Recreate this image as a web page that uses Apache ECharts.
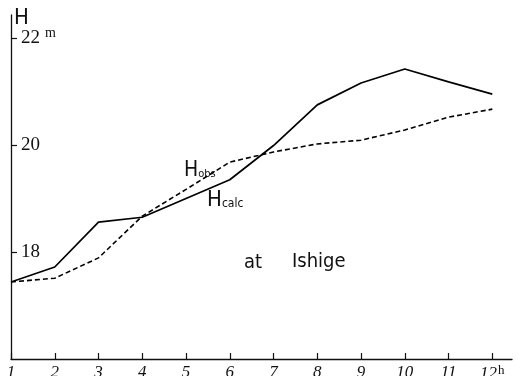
<!DOCTYPE html>
<html>
<head>
<meta charset="utf-8">
<script src="https://cdn.jsdelivr.net/npm/echarts@6/dist/echarts.min.js"></script>
<style>html,body{margin:0;padding:0;background:#fff;}#c{width:518px;height:376px;}</style>
</head>
<body>
<div id="c"></div>
<script>
// Data
var hours = [1, 2, 3, 4, 5, 6, 7, 8, 9, 10, 11, 12];
var hCalc = [17.44, 17.72, 18.56, 18.65, 19.0, 19.35, 19.99, 20.75, 21.16, 21.42, 21.18, 20.95];
var hObs  = [17.44, 17.51, 17.89, 18.67, 19.17, 19.68, 19.87, 20.02, 20.09, 20.28, 20.52, 20.67];
var yTicks = [18, 20, 22];
var xTicks = hours;

var chart = echarts.init(document.getElementById('c'), null, {renderer: 'canvas'});
var serif = '"Liberation Serif", "DejaVu Serif", serif';
var sans = '"DejaVu Sans Condensed", "DejaVu Sans", sans-serif';

function pairs(ys) { return hours.map(function (h, i) { return [h, ys[i]]; }); }

chart.setOption({
  animation: false,
  backgroundColor: '#fff',
  grid: {left: 11, right: 6, top: 15, bottom: 17, containLabel: false, outerBoundsMode: 'none'},
  xAxis: {
    type: 'value', min: 1, max: 12.45,
    axisLine: {show: true, lineStyle: {color: '#111', width: 1.3}},
    axisTick: {show: true, inside: true, length: 6, customValues: xTicks, lineStyle: {color: '#111', width: 1.2}},
    axisLabel: {
      show: true, customValues: xTicks, margin: 5, color: '#111',
      fontFamily: serif, fontSize: 17, fontStyle: 'italic',
      formatter: function (v) { return v === 12 ? '{n|12}{sup|h}' : String(v); },
      rich: {
        n: {fontSize: 17, fontFamily: serif, fontStyle: 'italic', lineHeight: 20, color: '#111'},
        sup: {fontSize: 13, fontFamily: serif, fontStyle: 'normal', verticalAlign: 'top', lineHeight: 13, padding: [0, 0, 0, 1], color: '#111'}
      }
    },
    splitLine: {show: false}
  },
  yAxis: {
    type: 'value', min: 16, max: 22.43,
    axisLine: {show: true, lineStyle: {color: '#111', width: 1.3}},
    axisTick: {show: true, inside: true, length: 6, customValues: yTicks, lineStyle: {color: '#111', width: 1.2}},
    axisLabel: {
      show: true, inside: true, margin: 10, customValues: yTicks, color: '#111',
      fontFamily: serif, fontSize: 19,
      formatter: function (v) { return v === 22 ? '22{sup|m}' : String(v); },
      rich: {sup: {fontSize: 14, fontFamily: serif, padding: [0, 0, 9, 5], color: '#111'}}
    },
    splitLine: {show: false}
  },
  series: [
    {
      name: 'H calc', type: 'line', data: pairs(hCalc), symbol: 'none',
      lineStyle: {color: '#000', width: 1.7, type: 'solid'}
    },
    {
      name: 'H obs', type: 'line', data: pairs(hObs), symbol: 'none',
      lineStyle: {color: '#000', width: 1.6, type: [5, 3]}
    }
  ],
  graphic: [
    {type: 'text', left: 14, top: 7, style: {text: 'H', font: '22px ' + sans, fill: '#111'}},
    {type: 'text', left: 184, top: 160, style: {text: 'H{s|obs}', font: '21px ' + sans, fill: '#111',
      rich: {s: {fontSize: 11, fontFamily: sans, padding: [8, 0, 0, 0], fill: '#111'}}}},
    {type: 'text', left: 207, top: 189, style: {text: 'H{s|calc}', font: '22px ' + sans, fill: '#111',
      rich: {s: {fontSize: 12, fontFamily: sans, padding: [8, 0, 0, 0], fill: '#111'}}}},
    {type: 'text', left: 244, top: 253, style: {text: 'at', font: '20px ' + sans, fill: '#111'}},
    {type: 'text', left: 292, top: 252, style: {text: 'Ishige', font: '20px ' + sans, fill: '#111'}}
  ]
});
</script>
</body>
</html>
